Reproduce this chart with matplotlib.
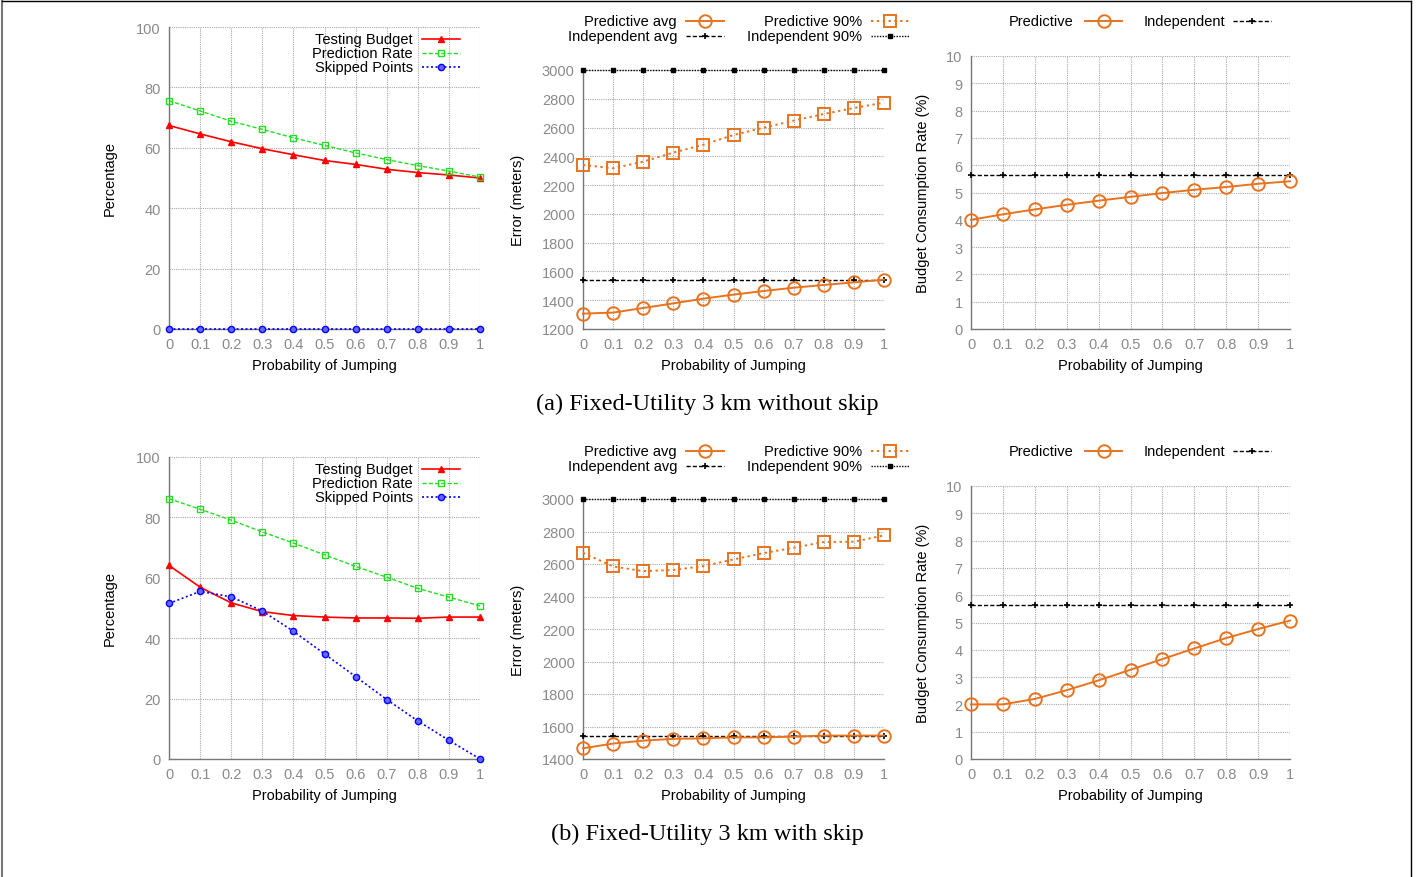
import numpy as np
import matplotlib
matplotlib.use('Agg')
import matplotlib.pyplot as plt
from matplotlib.lines import Line2D

## DATA
jump = [0, 0.1, 0.2, 0.3, 0.4, 0.5, 0.6, 0.7, 0.8, 0.9, 1]
jump_labels = ['0', '0.1', '0.2', '0.3', '0.4', '0.5', '0.6', '0.7', '0.8', '0.9', '1']

# (a) without skip
a_budget = [67.4, 64.6, 62.0, 59.7, 57.7, 55.8, 54.5, 52.9, 51.8, 51.0, 50.0]
a_pred_rate = [75.6, 72.2, 68.8, 66.1, 63.3, 60.8, 58.3, 56.1, 54.1, 52.3, 50.3]
a_skipped = [0, 0, 0, 0, 0, 0, 0, 0, 0, 0, 0]
a_pred_avg = [1307, 1314, 1346, 1378, 1411, 1439, 1464, 1487, 1506, 1524, 1543]
a_pred_90 = [2340, 2317, 2363, 2426, 2481, 2548, 2599, 2648, 2694, 2736, 2773]
a_ind_avg = [1543] * 11
a_ind_90 = [3000] * 11
a_pred_bcr = [4.0, 4.2, 4.38, 4.55, 4.7, 4.84, 4.98, 5.1, 5.2, 5.32, 5.41]
a_ind_bcr = [5.63] * 11

# (b) with skip
b_budget = [64.1, 56.9, 51.7, 48.8, 47.5, 47.0, 46.7, 46.7, 46.6, 47.0, 47.0]
b_pred_rate = [86.2, 82.7, 79.1, 75.2, 71.5, 67.6, 63.8, 60.2, 56.5, 53.6, 50.7]
b_skipped = [51.5, 55.5, 53.7, 49.0, 42.3, 34.8, 27.3, 19.7, 12.6, 6.2, 0.0]
b_pred_avg = [1466, 1495, 1513, 1524, 1527, 1533, 1533, 1538, 1544, 1544, 1544]
b_pred_90 = [2669, 2585, 2556, 2563, 2587, 2628, 2667, 2700, 2735, 2737, 2776]
b_ind_avg = [1544] * 11
b_ind_90 = [3000] * 11
b_pred_bcr = [2.0, 2.0, 2.2, 2.52, 2.88, 3.27, 3.66, 4.05, 4.43, 4.76, 5.07]
b_ind_bcr = [5.63] * 11

captions = ['(a) Fixed-Utility 3 km without skip', '(b) Fixed-Utility 3 km with skip']

## STYLES
W, H = 1417, 878
ORANGE = '#e8731f'
GREEN = '#22dd22'
TICKGRAY = '#8a8a8a'
plt.rcParams['font.family'] = ['Liberation Sans', 'DejaVu Sans']

styles = {
    'budget': dict(color='red', ls='-', lw=1.2, marker='^', ms=5, mfc='red', mec='red'),
    'rate': dict(color=GREEN, ls=(0, (3, 1.5)), lw=1.0, marker='s', ms=5, mfc='none', mec=GREEN, mew=1.0),
    'skip': dict(color='blue', ls=(0, (1.2, 1.5)), lw=1.2, marker='o', ms=4.5, mfc='#6666ff', mec='blue'),
    'pavg': dict(color=ORANGE, ls='-', lw=1.4, marker='o', ms=9, mfc='none', mec=ORANGE, mew=1.4),
    'p90': dict(color=ORANGE, ls=(0, (1.2, 1.8)), lw=1.4, marker='s', ms=9, mfc='none', mec=ORANGE, mew=1.4),
    'iavg': dict(color='black', ls=(0, (3, 1.5)), lw=1.0, marker='+', ms=5, mew=1.2),
    'i90': dict(color='black', ls=(0, (1, 1)), lw=1.0, marker='s', ms=3.5, mfc='black', mec='black'),
}


def px(x, y):
    return x / W, 1 - y / H


def style_axes(ax, ylim, yticks, ylabel, ylabelpad):
    ax.set_xlim(0, 1)
    ax.set_ylim(*ylim)
    ax.set_xticks(jump)
    ax.set_xticklabels(jump_labels)
    ax.set_yticks(yticks)
    ax.grid(True, color='#aaaaaa', ls=(0, (1, 1)), lw=0.8)
    ax.tick_params(length=0, colors=TICKGRAY, labelsize=10.5, pad=6)
    ax.tick_params(axis='y', pad=6)
    for s in ['top', 'right']:
        ax.spines[s].set_visible(False)
    for s in ['left', 'bottom']:
        ax.spines[s].set_color('#777777')
        ax.spines[s].set_linewidth(1.0)
    ax.set_xlabel('Probability of Jumping', fontsize=10.5, labelpad=5)
    ax.set_ylabel(ylabel, fontsize=10.5, labelpad=ylabelpad)


def legend_entry(fig, text, style, text_x, y, line_x0, line_x1):
    tx, ty = px(text_x, y)
    fig.text(tx, ty, text, ha='right', va='center', fontsize=10.5)
    x0, yy = px(line_x0, y)
    x1, _ = px(line_x1, y)
    st = dict(style)
    fig.add_artist(Line2D([x0, x1], [yy, yy], color=st['color'], ls=st['ls'], lw=st['lw'],
                          transform=fig.transFigure))
    fig.add_artist(Line2D([(x0 + x1) / 2], [yy], ls='none', marker=st['marker'], ms=st['ms'],
                          color=st['color'], mfc=st.get('mfc', st['color']),
                          mec=st.get('mec', st['color']), mew=st.get('mew', 1.0),
                          transform=fig.transFigure))


def plot_series(ax, y, style):
    ax.plot(jump, y, clip_on=False, zorder=3, **style)


fig = plt.figure(figsize=(W / 100, H / 100), dpi=100)

rows = [
    (a_budget, a_pred_rate, a_skipped, a_pred_avg, a_pred_90, a_ind_avg, a_ind_90,
     a_pred_bcr, a_ind_bcr, (1200, 3000), np.arange(1200, 3001, 200)),
    (b_budget, b_pred_rate, b_skipped, b_pred_avg, b_pred_90, b_ind_avg, b_ind_90,
     b_pred_bcr, b_ind_bcr, (1400, 3000), np.arange(1400, 3001, 200)),
]

for r, row in enumerate(rows):
    budget, rate, skip, pavg, p90, iavg, i90, pbcr, ibcr, elim, eticks = row
    off = r * 430     # vertical shift in pixels between the two rows
    bottom = 1 - (330 + off) / H

    # left panel: percentages
    ax1 = fig.add_axes([169 / W, bottom, 311 / W, 302 / H])
    plot_series(ax1, budget, styles['budget'])
    plot_series(ax1, rate, styles['rate'])
    plot_series(ax1, skip, styles['skip'])
    style_axes(ax1, (0, 100), np.arange(0, 101, 20), 'Percentage', 14)
    legend_entry(fig, 'Testing Budget', styles['budget'], 413, 40 + off, 422, 460)
    legend_entry(fig, 'Prediction Rate', styles['rate'], 413, 54 + off, 422, 460)
    legend_entry(fig, 'Skipped Points', styles['skip'], 413, 68 + off, 422, 460)

    # middle panel: error
    ax2 = fig.add_axes([583 / W, bottom, 301 / W, (259 if r == 0 else 260) / H])
    plot_series(ax2, i90, styles['i90'])
    plot_series(ax2, iavg, styles['iavg'])
    plot_series(ax2, p90, styles['p90'])
    plot_series(ax2, pavg, styles['pavg'])
    style_axes(ax2, elim, eticks, 'Error (meters)', 12)
    legend_entry(fig, 'Predictive avg', styles['pavg'], 677, 22 + off, 686, 724)
    legend_entry(fig, 'Independent avg', styles['iavg'], 677, 37 + off, 686, 724)
    legend_entry(fig, 'Predictive 90%', styles['p90'], 862, 22 + off, 871, 909)
    legend_entry(fig, 'Independent 90%', styles['i90'], 862, 37 + off, 871, 909)

    # right panel: budget consumption rate
    ax3 = fig.add_axes([971 / W, bottom, 319 / W, 273 / H])
    plot_series(ax3, ibcr, styles['iavg'])
    plot_series(ax3, pbcr, styles['pavg'])
    style_axes(ax3, (0, 10), np.arange(0, 11, 1), 'Budget Consumption Rate (%)', 12)
    legend_entry(fig, 'Predictive', styles['pavg'], 1074, 22 + off, 1085, 1122)
    legend_entry(fig, 'Independent', styles['iavg'], 1225, 22 + off, 1233, 1271)

    cx, cy = px(707, 404 + off)
    fig.text(cx, cy, captions[r], ha='center', va='center', fontsize=17.5,
             family=['Liberation Serif', 'DejaVu Serif'])

# page frame (top, left and right edges)
fig.add_artist(Line2D([2 / W, 2 / W], [0, 1 - 2 / H], color='#777777', lw=1.5, transform=fig.transFigure))
fig.add_artist(Line2D([1411 / W, 1411 / W], [0, 1 - 2 / H], color='black', lw=1.0, transform=fig.transFigure))
fig.add_artist(Line2D([2 / W, 1411 / W], [1 - 2 / H, 1 - 2 / H], color='black', lw=1.0, transform=fig.transFigure))

fig.savefig('out.png', dpi=100)
